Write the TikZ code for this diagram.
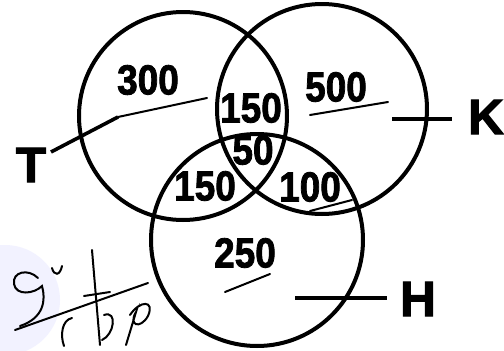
\documentclass[tikz,border=0pt]{standalone}
\usepackage{fontspec}
\setmainfont{Liberation Sans}
\newfontfamily\heavyfont{Liberation Sans Bold}[FakeBold=2]
\begin{document}
\begin{tikzpicture}[x=1pt,y=-1pt,
  ring/.style={draw=black,line width=4pt},
  num/.style={inner sep=0pt,font=\heavyfont\fontsize{42}{42}\selectfont,xscale=0.88},
  setlab/.style={inner sep=0pt,font=\heavyfont\fontsize{50}{50}\selectfont},
  lead/.style={draw=black,line width=3.6pt},
  pen/.style={draw=black,line width=2pt,line cap=round}]
\useasboundingbox (0,0) rectangle (504,351);
\fill[white] (0,0) rectangle (504,351);
\fill[blue!5] (5,300) circle (55);
% circles
\node[ring,circle,minimum size=208pt,inner sep=0pt] (T) at (183,116) {};
\node[ring,circle,minimum size=210pt,inner sep=0pt] (K) at (322,109) {};
\node[ring,circle,minimum size=212pt,inner sep=0pt] (H) at (257,240) {};
% numbers
\node[num] (n300) at (148,80) {300};
\node[num] (n500) at (336,87) {500};
\node[num] (n150a) at (251,108) {150};
\node[num] (n50) at (253,150) {50};
\node[num] (n150b) at (205,186) {150};
\node[num] (n100) at (310,187) {100};
\node[num] (n250) at (245,253) {250};
% set labels
\node[setlab] (lT) at (31,165) {T};
\node[setlab] (lK) at (486,117) {K};
\node[setlab] (lH) at (418,299) {H};
% leaders
\coordinate (tA) at (51,152);
\coordinate (tB) at (118,117);
\coordinate (tC) at (207,98);
\draw[lead] (tA) -- (tB);
\draw[pen] (tB) -- (tC);
\coordinate (kA) at (392,119);
\coordinate (kB) at (452,119);
\draw[lead] (kA) -- (kB);
\coordinate (hA) at (295,298);
\coordinate (hB) at (387,298);
\draw[lead] (hA) -- (hB);
% pen marks
\coordinate (u1a) at (310,115); \coordinate (u1b) at (388,102);
\draw[pen] (u1a) -- (u1b);
\coordinate (u2a) at (310,211); \coordinate (u2b) at (352,200);
\draw[pen] (u2a) -- (u2b);
\coordinate (u3a) at (225,292); \coordinate (u3b) at (270,274);
\draw[pen] (u3a) -- (u3b);
% signature
\draw[pen] (15,330) -- (148,283);
\draw[pen] (38,278) .. controls (28,268) and (12,272) .. (14,284) .. controls (16,296) and (34,294) .. (42,286) .. controls (46,300) and (44,318) .. (20,326);
\draw[pen] (52,268) .. controls (54,276) and (60,276) .. (62,266);
\draw[pen] (92,250) -- (100,345);
\draw[pen] (84,296) -- (110,292);
\draw[pen] (72,318) .. controls (62,320) and (60,335) .. (64,346);
\draw[pen] (104,315) .. controls (118,310) and (114,335) .. (102,340);
\draw[pen] (130,315) .. controls (140,300) and (155,300) .. (148,316) .. controls (140,330) and (128,325) .. (136,312) -- (126,345);
\end{tikzpicture}
\end{document}
